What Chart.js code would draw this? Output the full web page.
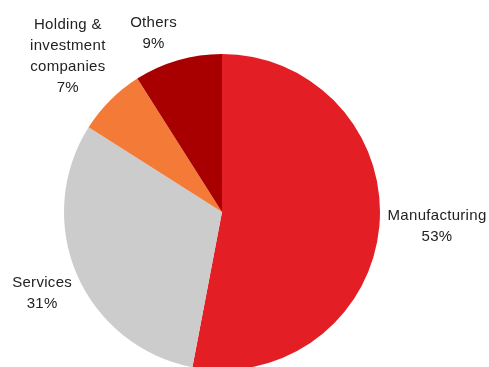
<!DOCTYPE html>
<html>
<head>
<meta charset="utf-8">
<script src="https://cdn.jsdelivr.net/npm/chart.js@4/dist/chart.umd.min.js"></script>
<style>
  html, body { margin: 0; padding: 0; background: #fff; overflow: hidden; }
  #wrap { width: 489px; height: 380px; position: relative; }
</style>
</head>
<body>
<div id="wrap"><canvas id="sectorChart"></canvas></div>
<script>
const categories = ['Manufacturing', 'Services', 'Holding & investment companies', 'Others'];
const shares = [53, 31, 7, 9];
const labelLines = [
    ['Manufacturing'],
    ['Services'],
    ['Holding &', 'investment', 'companies'],
    ['Others']
];
const sliceColors = ['#E31E24', '#CCCCCC', '#F47A38', '#A80000'];

// label distance from the pie edge and a small nudge, per slice
const labelLayout = [
    { gap: 58, dx: 0, dy: -6 },
    { gap: 38, dx: 0, dy: 3.5 },
    { gap: 60, dx: 0, dy: -1.5 },
    { gap: 30, dx: -16, dy: 2 }
];

const outsideLabels = {
    id: 'outsideLabels',
    afterDatasetsDraw(chart) {
        const ctx = chart.ctx;
        const arcs = chart.getDatasetMeta(0).data;
        ctx.save();
        ctx.font = '15px "Liberation Sans", Arial, sans-serif';
        ctx.letterSpacing = '0.3px';
        ctx.fillStyle = '#222';
        ctx.textAlign = 'center';
        ctx.textBaseline = 'middle';
        const lineH = 21.3;
        arcs.forEach((arc, i) => {
            const mid = (arc.startAngle + arc.endAngle) / 2;
            const d = arc.outerRadius + labelLayout[i].gap;
            const cx = arc.x + Math.cos(mid) * d + labelLayout[i].dx;
            const cy = arc.y + Math.sin(mid) * d + labelLayout[i].dy;
            const lines = labelLines[i].concat([shares[i] + '%']);
            const top = cy - (lines.length - 1) * lineH / 2;
            lines.forEach((t, k) => ctx.fillText(t, cx, top + k * lineH));
        });
        ctx.restore();
    }
};

new Chart(document.getElementById('sectorChart'), {
    type: 'pie',
    data: {
        labels: categories,
        datasets: [{
            data: shares,
            backgroundColor: sliceColors,
            borderWidth: 0
        }]
    },
    options: {
        responsive: true,
        maintainAspectRatio: false,
        animation: false,
        layout: { padding: { left: 64, right: 109, top: 54, bottom: 10 } },
        plugins: {
            legend: { display: false },
            tooltip: { enabled: false }
        }
    },
    plugins: [outsideLabels]
});
</script>
</body>
</html>
